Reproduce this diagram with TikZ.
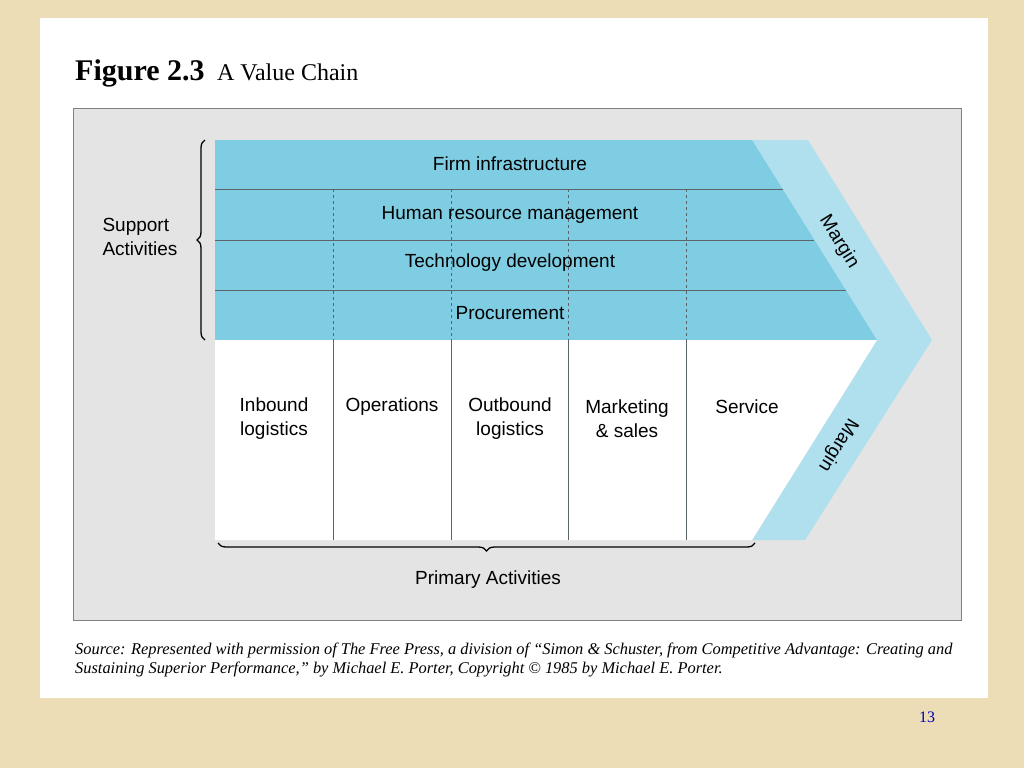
\documentclass[tikz,border=0pt]{standalone}
\usepackage{fontspec}
\setmainfont{Liberation Serif}
\setsansfont{Liberation Sans}
\usetikzlibrary{decorations.pathreplacing,positioning}
\definecolor{paper}{RGB}{236,221,182}
\definecolor{panelgray}{RGB}{228,228,228}
\definecolor{supportblue}{RGB}{126,205,226}
\definecolor{marginblue}{RGB}{176,224,238}
\definecolor{rulegray}{RGB}{90,100,105}
\tikzstyle{activity} = [font=\sffamily\fontsize{19}{24}\selectfont, align=center]
\tikzstyle{divider} = [draw=rulegray, line width=1pt]
\tikzstyle{brace} = [draw, line width=1.3pt, decorate, decoration={brace, amplitude=8pt}]
\begin{document}
\begin{tikzpicture}[x=1pt,y=-1pt]
\useasboundingbox (0,0) rectangle (1024,768);
%% page
\fill[paper] (0,0) rectangle (1024,768);
\fill[white] (40,18) rectangle (988,698);
\node[anchor=base west, inner sep=0] (title) at (75,80) {\fontsize{30}{32}\selectfont\bfseries Figure 2.3};
\node[inner sep=0, right=12pt of title.base east, anchor=base west] (subtitle) {\fontsize{24}{26}\selectfont A Value Chain};
\draw[gray, fill=panelgray] (73,108) rectangle (961,620);
%% margin band
\fill[marginblue] (752,140) -- (808,140) -- (932,340) -- (805,540) -- (752,540) -- (877,340) -- cycle;
%% support activities
\fill[supportblue] (215,140) -- (752,140) -- (877,340) -- (215,340) -- cycle;
\fill[white] (215,340) -- (877,340) -- (752,540) -- (215,540) -- cycle;
\draw[divider] (215,189) -- (783,189);
\draw[divider] (215,240) -- (814,240);
\draw[divider] (215,290) -- (846,290);
\foreach \x in {333,451,568,686} {
  \draw[divider, dashed] (\x,189) -- (\x,340);
  \draw[divider] (\x,340) -- (\x,540);
}
\node[activity] (infra) at (510,164) {Firm infrastructure};
\node[activity] (hrm) at (510,215) {Human resource management};
\node[activity] (tech) at (510,263) {Technology development};
\node[activity] (proc) at (510,313) {Procurement};
%% primary activities
\node[activity] (inbound) at (274,419) {Inbound\\logistics};
\node[activity] (ops) at (392,407) {Operations};
\node[activity] (outbound) at (510,419) {Outbound\\logistics};
\node[activity] (marketing) at (627,419) {Marketing\\\& sales};
\node[activity] (service) at (747,407) {Service};
\node[activity, rotate=-58] (margintop) at (839,242) {Margin};
\node[activity, rotate=-122] (marginbot) at (838,445) {Margin};
%% braces
\draw[brace] (205,340) -- (205,140);
\node[activity, align=left] (support) at (140,237) {Support\\Activities};
\draw[brace] (755,543) -- (218,543);
\node[activity] (primary) at (488,580) {Primary Activities};
%% source
\node[anchor=north west, inner sep=0, font=\itshape\fontsize{16.4}{19}\selectfont, align=left] (source) at (75,643)
  {Source: Represented with permission of The Free Press, a division of “Simon \& Schuster, from Competitive Advantage: Creating and\\Sustaining Superior Performance,” by Michael E. Porter, Copyright © 1985 by Michael E. Porter.};
\node[blue!70!black, font=\fontsize{16}{18}\selectfont] (pagenum) at (927,717) {13};
\end{tikzpicture}
\end{document}
